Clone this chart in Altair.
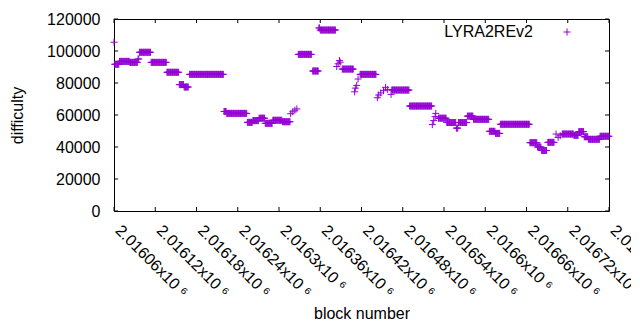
import altair as alt
import pandas as pd

# Runs of blocks sharing one difficulty value: (first block, last block, difficulty)
run_start = [2016060, 2016061, 2016068, 2016083, 2016095, 2016097, 2016114, 2016137, 2016155, 2016162,
             2016170, 2016220, 2016224, 2016254, 2016262, 2016271, 2016280, 2016291, 2016305, 2016317,
             2016320, 2016323, 2016326, 2016328, 2016349, 2016358, 2016360, 2016384, 2016386, 2016388,
             2016389, 2016392, 2016410, 2016411, 2016413, 2016415, 2016418, 2016443, 2016445, 2016448,
             2016452, 2016455, 2016458, 2016463, 2016464, 2016490, 2016523, 2016525, 2016527, 2016528,
             2016532, 2016544, 2016558, 2016561, 2016574, 2016583, 2016606, 2016615, 2016622, 2016665,
             2016676, 2016682, 2016691, 2016703, 2016706, 2016709, 2016712, 2016729, 2016736, 2016744,
             2016750, 2016767]
run_end = [2016060, 2016067, 2016082, 2016094, 2016096, 2016113, 2016136, 2016154, 2016161, 2016168,
           2016219, 2016223, 2016253, 2016261, 2016270, 2016279, 2016290, 2016304, 2016316, 2016317,
           2016320, 2016323, 2016326, 2016347, 2016357, 2016359, 2016382, 2016384, 2016386, 2016388,
           2016389, 2016408, 2016410, 2016411, 2016413, 2016415, 2016441, 2016443, 2016445, 2016448,
           2016452, 2016455, 2016458, 2016463, 2016489, 2016522, 2016523, 2016525, 2016527, 2016528,
           2016543, 2016557, 2016560, 2016573, 2016582, 2016605, 2016614, 2016621, 2016664, 2016675,
           2016681, 2016689, 2016700, 2016703, 2016706, 2016709, 2016728, 2016735, 2016743, 2016749,
           2016766, 2016780]
run_value = [105500, 91700, 93500, 92900, 95000, 99200, 92900, 86700, 79000, 77500,
             85400, 62200, 61000, 55400, 56500, 58000, 54800, 56700, 55800, 60800,
             62000, 63000, 63800, 97900, 87500, 114400, 113100, 90300, 92000, 94000,
             93000, 88700, 74500, 76800, 78500, 82500, 85400, 70800, 72500, 73800,
             75200, 77300, 76000, 72900, 75600, 65600, 54000, 56500, 59000, 61000,
             58000, 55300, 51800, 55300, 59300, 57300, 49800, 48500, 54200, 42700,
             40000, 37800, 42900, 48100, 46000, 47000, 48100, 47300, 49600, 46400,
             44800, 46700]

x_ticks = list(range(2016060, 2016781, 60))
y_ticks = [0, 20000, 40000, 60000, 80000, 100000, 120000]
series_name = "LYRA2REv2"

blocks, diffs = [], []
for s, e, v in zip(run_start, run_end, run_value):
    for b in range(s, e + 1):
        blocks.append(b)
        diffs.append(v)
df = pd.DataFrame({"block": blocks, "difficulty": diffs})

W, H = 495, 192
TL = 4
PURPLE = "#9400D3"
PLUS = "M-1,0L1,0M0,-1L0,1"
FONT = "Liberation Sans"
FS = 16

xscale = alt.Scale(domain=[2016060, 2016780], nice=False, zero=False)
yscale = alt.Scale(domain=[0, 120000], nice=False, zero=False)

x_axis = alt.Axis(
    values=x_ticks,
    labelExpr="format(datum.value / 1000000, '.5~f') + 'x10 ⁶'",
    labelAngle=45, labelAlign="left", labelBaseline="alphabetic",
    labelPadding=20, labelFlush=False, labelOverlap=False,
    ticks=False, tickSize=0, domain=False, grid=False,
    labelFont=FONT, labelFontSize=FS, labelColor="black",
    title="block number", titleFont=FONT, titleFontSize=FS, titleFontWeight="normal",
    titleColor="black", titleX=W / 2, titleY=107, titleAlign="center",
    titleBaseline="alphabetic",
)
y_axis = alt.Axis(
    values=y_ticks, format="d", labelPadding=14, labelFlush=False, labelOverlap=False,
    ticks=False, tickSize=0, domain=False, grid=False,
    labelFont=FONT, labelFontSize=FS, labelColor="black", labelBaseline="middle",
    title="difficulty", titleFont=FONT, titleFontSize=FS, titleFontWeight="normal",
    titleColor="black", titleX=-97, titleY=H / 2, titleAngle=-90,
    titleAlign="center", titleBaseline="middle",
)

points = alt.Chart(df).mark_point(
    shape=PLUS, size=49, filled=False, stroke=PURPLE, strokeWidth=1, opacity=1
).encode(
    x=alt.X("block:Q", scale=xscale, axis=x_axis),
    y=alt.Y("difficulty:Q", scale=yscale, axis=y_axis),
)

xt = pd.DataFrame({"block": x_ticks})
yt = pd.DataFrame({"difficulty": y_ticks})

xb = alt.Chart(xt).mark_rule(color="black", strokeWidth=1).encode(
    x=alt.X("block:Q", scale=xscale, axis=x_axis), y=alt.value(H), y2=alt.value(H - TL))
xtp = alt.Chart(xt).mark_rule(color="black", strokeWidth=1).encode(
    x=alt.X("block:Q", scale=xscale, axis=x_axis), y=alt.value(0), y2=alt.value(TL))
yl = alt.Chart(yt).mark_rule(color="black", strokeWidth=1).encode(
    y=alt.Y("difficulty:Q", scale=yscale, axis=y_axis), x=alt.value(0), x2=alt.value(TL))
yr = alt.Chart(yt).mark_rule(color="black", strokeWidth=1).encode(
    y=alt.Y("difficulty:Q", scale=yscale, axis=y_axis), x=alt.value(W), x2=alt.value(W - TL))

leg_df = pd.DataFrame({"label": [series_name]})
leg_text = alt.Chart(leg_df).mark_text(
    align="right", baseline="middle", font=FONT, fontSize=FS, color="black"
).encode(text="label:N", x=alt.value(419), y=alt.value(13))
leg_sym = alt.Chart(leg_df).mark_point(
    shape=PLUS, size=49, filled=False, stroke=PURPLE, strokeWidth=1, opacity=1
).encode(x=alt.value(453), y=alt.value(13))

chart = alt.layer(points, xb, xtp, yl, yr, leg_text, leg_sym).properties(
    width=W, height=H,
    padding={"left": 106, "top": 11, "right": 22, "bottom": 109},
    autosize=alt.AutoSizeParams(type="none"),
    background="white",
).configure_view(stroke="black", strokeWidth=1)

chart.save("out.html", embed_options={"renderer": "svg", "actions": False})
